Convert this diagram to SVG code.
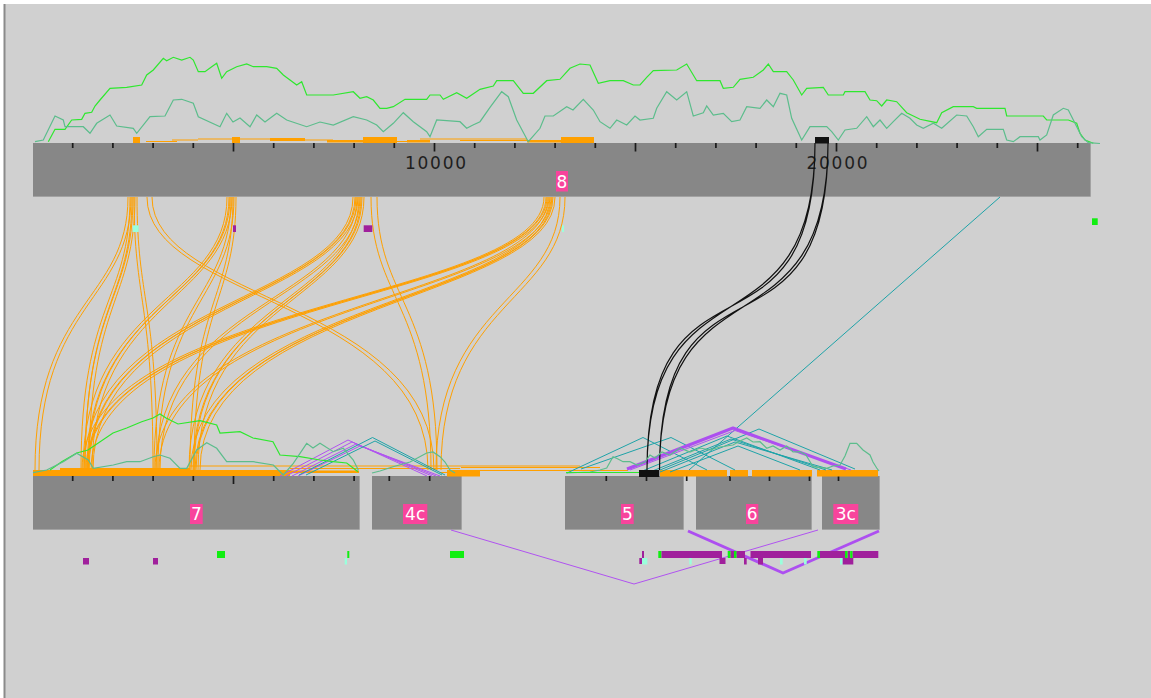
<svg xmlns="http://www.w3.org/2000/svg" width="1151" height="698" viewBox="0 0 1151 698">
<style>
.bar{fill:#878787}
.edge{stroke:#a2a2a2;stroke-width:1;fill:none}
.tick{stroke:#1a1a1a;stroke-width:1.7;fill:none}
.num{font-family:"DejaVu Sans",sans-serif;font-size:17px;fill:#1e1e1e;text-anchor:middle}
.lbox{fill:#f8449c}
.ltxt{font-family:"DejaVu Sans",sans-serif;font-size:17px;fill:#ffffff;text-anchor:middle}
.rib{fill:none;stroke:#ffa000;stroke-width:1}
.foot{fill:#ffa000}
.footl{stroke:#ffa000;stroke-width:1.2;fill:none}
.blk{fill:none;stroke:#111;stroke-width:1.2}
.teal{fill:none;stroke:#1ea3a8;stroke-width:1}
.pur{fill:none;stroke:#b053f0;stroke-width:1}
.purk{fill:none;stroke:#ad4ff0;stroke-width:3;stroke-linejoin:round}
.gr{fill:none;stroke:#2ee82e;stroke-width:1.2}
.sg{fill:none;stroke:#5cbd8c;stroke-width:1.2}
.fp{fill:#a0209c}
.fc{fill:#9affdc}
.fg{fill:#11ee11}
</style>
<rect x="0" y="0" width="1151" height="698" fill="#ffffff"/>
<rect x="4" y="4" width="1147" height="694" fill="#d0d0d0"/>
<rect x="3.5" y="4" width="2" height="694" fill="#8a8a8a"/>

<!-- top feet -->
<g id="top-feet">
<rect class="foot" x="133" y="137" width="7" height="6"/>
<rect class="foot" x="232" y="137" width="8" height="6"/>
<rect class="foot" x="363" y="137" width="34" height="6"/>
<rect class="foot" x="561" y="137" width="33" height="6"/>
<rect class="foot" x="270" y="138" width="35" height="3"/>
<rect class="foot" x="327" y="140" width="36" height="2.5"/>
<rect class="foot" x="407" y="140" width="23" height="2.5"/>
<rect class="foot" x="527" y="140" width="34" height="2.5"/>
<path class="footl" d="M146 141.5H177M172 140H198M198 139H305M305 140H333M397 141.5H420M420 139H527M460 140.5H527"/>
</g>

<!-- nodes -->
<g id="chr8">
<rect class="bar" x="33" y="143" width="1057" height="54"/>
<path class="edge" d="M33 196.5H1090.5V143"/>
<path class="tick" d="M72.7 143v5M112.9 143v5M153.1 143v5M193.3 143v5M273.7 143v5M313.9 143v5M354.1 143v5M394.3 143v5M474.7 143v5M514.9 143v5M555.1 143v5M595.3 143v5M675.7 143v5M715.9 143v5M756.1 143v5M796.3 143v5M876.7 143v5M916.9 143v5M957.1 143v5M997.3 143v5M1077.7 143v5M233.5 143v8.5M434.5 143v8.5M635.5 143v8.5M836.5 143v8.5M1037.5 143v8.5"/>
<text class="num" x="435.5" y="169" textLength="61" lengthAdjust="spacing">10000</text>
<text class="num" x="837" y="169" textLength="61" lengthAdjust="spacing">20000</text>
</g>
<g id="chr7">
<rect class="bar" x="33" y="476" width="326" height="54"/>
<path class="edge" d="M33 529.5H359.5V476"/>
<path class="tick" d="M72.7 476v5M112.9 476v5M153.1 476v5M193.3 476v5M273.7 476v5M313.9 476v5M354.1 476v5M233.5 476v8"/>
</g>
<g id="chr4c">
<rect class="bar" x="372" y="476" width="89" height="54"/>
<path class="edge" d="M372 529.5H461.5V476"/>
<path class="tick" d="M389.3 476v5M429.7 476v5"/>
</g>
<g id="chr5">
<rect class="bar" x="565" y="476" width="118" height="54"/>
<path class="edge" d="M565 529.5H683.5V476"/>
<path class="tick" d="M606.3 476v5M646.5 476v5M686.7 476v5"/>
</g>
<g id="chr6">
<rect class="bar" x="696" y="476" width="115" height="54"/>
<path class="edge" d="M696 529.5H811.5V476"/>
<path class="tick" d="M730 476v5M769.5 476v5M809.5 476v5"/>
</g>
<g id="chr3c">
<rect class="bar" x="822" y="476" width="57" height="54"/>
<path class="edge" d="M822 529.5H879.5V476"/>
<path class="tick" d="M838.5 476v5"/>
</g>

<!-- bottom feet -->
<g id="bottom-feet">
<rect class="foot" x="33" y="470" width="257" height="6"/>
<rect class="foot" x="60" y="468" width="130" height="2"/>
<rect class="foot" x="290" y="470.5" width="69" height="2.5"/>
<rect class="foot" x="447" y="470" width="33" height="6.5"/>
<rect class="foot" x="660" y="470" width="67" height="6.5"/>
<rect class="foot" x="730" y="470" width="18" height="6.5"/>
<rect class="foot" x="752" y="470" width="60" height="6.5"/>
<rect class="foot" x="817" y="470" width="61" height="6.5"/>
<path class="footl" d="M190 466H580M290 468.5H460M461 467.5H600M480 470.5H628M440 472.5H461M461 474.5H472"/>
</g>

<!-- connectors -->
<g id="connectors">
<path class="rib" d="M128 197C128 301 35 301 35 470M131 197C131 301 39 301 39 470"/>
<path class="rib" d="M130 197C130 301 81 301 81 470M133 197C133 301 85 301 85 470"/>
<path class="rib" d="M132 197C132 301 85 301 85 470M135 197C135 301 89 301 89 470"/>
<path class="rib" d="M134 197C134 301 153 301 153 470M137 197C137 301 157 301 157 470"/>
<path class="rib" d="M147 197C147 301 428 301 428 470M152 197C152 301 434 301 434 470"/>
<path class="rib" d="M227 197C227 301 83 301 83 470M230 197C230 301 87 301 87 470"/>
<path class="rib" d="M229 197C229 301 88 301 88 470M232 197C232 301 92 301 92 470"/>
<path class="rib" d="M231 197C231 301 154 301 154 470M234 197C234 301 158 301 158 470"/>
<path class="rib" d="M233 197C233 301 190 301 190 470M236 197C236 301 194 301 194 470"/>
<path class="rib" d="M353 197C353 301 84 301 84 470M356 197C356 301 88 301 88 470"/>
<path class="rib" d="M355 197C355 301 89 301 89 470M358 197C358 301 93 301 93 470"/>
<path class="rib" d="M357 197C357 301 156 301 156 470M360 197C360 301 160 301 160 470"/>
<path class="rib" d="M359 197C359 301 189 301 189 470M362 197C362 301 193 301 193 470"/>
<path class="rib" d="M361 197C361 301 194 301 194 470M364 197C364 301 198 301 198 470"/>
<path class="rib" d="M371 197C371 301 431 301 431 470M377 197C377 301 437 301 437 470"/>
<path class="rib" d="M544 197C544 301 82 301 82 470M547 197C547 301 86 301 86 470"/>
<path class="rib" d="M546 197C546 301 87 301 87 470M549 197C549 301 91 301 91 470"/>
<path class="rib" d="M548 197C548 301 155 301 155 470M551 197C551 301 159 301 159 470"/>
<path class="rib" d="M550 197C550 301 191 301 191 470M553 197C553 301 195 301 195 470"/>
<path class="rib" d="M552 197C552 301 196 301 196 470M555 197C555 301 200 301 200 470"/>
<path class="rib" d="M560 197C560 301 436 301 436 470M565 197C565 301 441 301 441 470"/>

<polyline class="pur" points="280,476 348,440 427,476"/>
<polyline class="pur" points="286,476 352,442 432,476"/>
<polyline class="pur" points="292,476 356,444 436,476"/>
<polyline class="pur" points="298,476 360,446 440,476"/>
<polyline class="teal" points="299,475 372.5,437.5 445,475"/>
<polyline class="teal" points="306,475 375,441 442,475"/>

<polyline class="teal" points="567,473 643,437.5 707,470"/>
<polyline class="teal" points="581,469 671,437.5 735,470"/>
<polyline class="teal" points="660,470 759,429 855,469"/>
<polyline class="teal" points="640,472 727,436 820,470"/>
<polyline class="teal" points="650,472 731,439 826,470"/>
<polyline class="teal" points="660,472 735,442 832,470"/>
<polyline class="teal" points="670,472 738,446 800,470"/>
<line class="teal" x1="1000" y1="197" x2="689" y2="470"/>
<polyline class="purk" points="627,469 733,428 846,469" stroke-width="2.2"/>
<polyline class="pur" points="630,470 735,430.5 851,470" stroke-width="1.6"/>

<polyline class="pur" points="451,530 634,584 818,530"/>
<polyline class="purk" points="688,531 783,573 879,531"/>

<path class="blk" d="M815 143C815 378 647 235 647 470M815 143C815 362 647 251 647 470"/>
<path class="blk" d="M828 143C828 378 659.5 235 659.5 470M828 143C828 362 659.5 251 659.5 470"/>
</g>

<!-- plots -->
<g id="plots">
<polyline class="gr" points="48.3,141.7 55,129.3 65,129.3 71.7,120 81.7,119.3 85,113.3 91.7,112.3 95,106 100,100 110,88.3 126.7,87.3 141.7,85 146.7,75 153.3,70 163.3,58.3 166.7,60.7 173.3,57.3 181.7,60 190,57.3 193.3,60 198.3,71.7 205,71.7 211.7,66.7 216.7,63.3 221.7,78.3 226.7,71.7 236.7,66.7 246.7,64 253.3,66.7 266.7,66.7 276.7,68.3 283.3,75 290,80 296.7,85 301.7,81.7 306.7,95 333.3,95 353.3,91.7 360,98.3 366.7,96.7 373.3,100 380,108.3 386.7,108.3 393.3,106.7 405,99.3 426.7,99.3 430,95 440,95 443.3,99.3 456.7,92.7 466.7,98.3 480,89.3 493.3,86 496.7,80.7 513.3,80.7 523.3,93.3 533.3,93.3 546.7,80.7 560,79.3 570,68.3 580,64 590,65 598.3,83.3 610,80.7 623.3,80.7 633.3,85 640,85 646.7,77.3 653.3,70.7 676.7,70 686.7,64 696.7,80.7 720,80.7 723.3,88.3 733.3,87.3 740,79.3 753.3,77.3 763.3,70 768.3,64 773.3,71.7 786.7,71.7 793.3,80 801.7,95 806.7,88.3 823.3,87.3 828.3,95 843.3,95 845,91.7 865,91.7 870,100 876.7,100.7 881.7,106 886.7,100 896.7,101.7 906.7,112.7 920,119.3 936.7,122.7 941.7,112.7 953.3,106.7 973.3,106.7 976.7,108.3 1005,108.3 1006.7,116 1043.3,116 1046.7,120 1068.3,120 1076.7,123.3 1080,133.3 1085,140 1093.3,143.3"/>
<polyline class="sg" points="35,141.7 43.3,140 55,116 63.3,120 65,126.7 83.3,126.7 90,133.3 96.7,123.3 110,115 116.7,126 133.3,128.3 136.7,133.3 150,116.7 165,116 173.3,100 181.7,99.3 193.3,103.3 198.3,116.7 220,126.7 226.7,113.3 233,122 240,118 250,126.7 256.7,115 265,122 276.7,113.3 286.7,120 306.7,126.7 320,122 333.3,125 353.3,116.7 366.7,120 376.7,125 383.3,131.7 393.3,123.3 403.3,112.7 413.3,121.7 426.7,131.7 430,136.7 436.7,120 460,121.7 466.7,128.3 473,125 480,121.7 490,107.3 501.7,91.7 508.3,96.7 516.7,120 528.3,141.7 540,128.3 545,116 553.3,116 566.7,106.7 573,110 583.3,99.3 593.3,110 600,121.7 610,128.3 616.7,120 626.7,125 635,116 640,120 653.3,118.3 656.7,108.3 666.7,91.7 676.7,100 686.7,91.7 693.3,116 703.3,112.7 706.7,106 713.3,115 723.3,113.3 731.7,121.7 740,120 746.7,106.7 760,108.3 766.7,100 773.3,106.7 780,93.3 786.7,95 791.7,118.3 801.7,140 810,126.7 826.7,126.7 831.7,131.7 838.3,140 845,130 856.7,128.3 866.7,116.7 873.3,126.7 880,120 886.7,128.3 893.3,121.7 901.7,113.3 910,118.3 916.7,125 923.3,128.3 933.3,123.3 941.7,128.3 956.7,115 966.7,116 973.3,126.7 978.3,136.7 986.7,129.3 1003.3,129.3 1006.7,140 1013.3,141.7 1020,136.7 1038.3,136.7 1040,140 1046.7,135 1053.3,115 1063.3,108.3 1068.3,110 1075,123.3 1081.7,136.7 1088.3,142.7 1100,143.5"/>
<polyline class="gr" points="50,470 61.7,461.7 76.7,453 88,450 113,433 126.7,428 141.7,421.7 153,418 160,414 166,418 178,424 200,420.7 216.7,425 220,433 240,431.7 253,438 273,441.7 280,455 300,456.7 320,460 333,461.7 346.7,463 358,471.7"/>
<polyline class="sg" points="33,472.7 46.7,470 63.3,461.7 76.7,453.3 88.3,460 93.3,468.3 113.3,465 126.7,461.7 140,461.7 153.3,456.7 160,455 170,458.3 180,468.3 186.7,468.3 196.7,450 206.7,442.7 216.7,448.3 226.7,461.7 253.3,461.7 273.3,465 283.3,475 293.3,463.3 306.7,443.3 313,448 320,443.3 333.3,451.7 343.3,448.3 353.3,460 358.3,470"/>
<polyline class="sg" points="372,473 380,471 393,466.7 410,462 426.7,453 433,452 440,456.7 445,462 450,470 455,473"/>
<polyline class="sg" points="566,473 590,472 600,470 606.7,468 613,456.7 618,459 623,461.7 630,461.7 637,465 645,462 650,455 655,458 662,452 670,455 680,448 690,452 700,448 710,450 720,447 733,445 740,441 746.7,438 753,442 760,441.7 766.7,448.3 773,446 780,450 786.7,446 793,452 800,451.7 806,455 813,466.7 826.7,468.3 833,466 840,465 845,456 850,443.3 856.7,443.3 863,450 870,455 873,462 876.7,468 879,471"/>
<line class="gr" x1="566" y1="472.5" x2="640" y2="472.5"/>
</g>

<!-- black anchors -->
<rect x="815" y="137" width="14" height="6.5" fill="#111"/>
<rect x="639" y="470" width="20.3" height="7" fill="#111"/>

<!-- features -->
<g id="features">
<rect class="fc" x="132.7" y="225.3" width="6" height="6.7"/>
<rect class="fp" x="233" y="225.3" width="3" height="6.7"/>
<rect class="fp" x="363.7" y="225.3" width="8.6" height="6.7"/>
<rect class="fc" x="562" y="225.3" width="2" height="6.7"/>
<rect class="fg" x="1092" y="218.3" width="5.7" height="6.7"/>

<rect class="fp" x="83" y="558" width="6" height="6.5"/>
<rect class="fp" x="153" y="558" width="5" height="6.5"/>
<rect class="fg" x="217" y="551" width="8" height="7"/>
<rect class="fg" x="347.3" y="551" width="2" height="7"/>
<rect class="fc" x="344.7" y="558" width="2.3" height="6.5"/>
<rect class="fg" x="450" y="551" width="14" height="7"/>

<rect class="fp" x="642" y="551" width="2" height="7"/>
<rect class="fp" x="639.3" y="558" width="2.7" height="6"/>
<rect class="fc" x="642" y="558" width="5.3" height="6.5"/>
<rect class="fg" x="658.3" y="551" width="3.2" height="7"/>
<rect class="fp" x="661.5" y="551" width="60.5" height="7"/>
<rect class="fc" x="689.3" y="558" width="2.4" height="6.5"/>
<rect class="fp" x="719.5" y="558" width="6" height="6"/>
<rect class="fg" x="727.7" y="551" width="3" height="7"/>
<rect class="fp" x="730.7" y="551" width="3.3" height="7"/>
<rect class="fg" x="734" y="551" width="2.7" height="7"/>
<rect class="fp" x="736.7" y="551" width="8.3" height="7"/>
<rect class="fp" x="744" y="558" width="2.7" height="6.5"/>
<rect class="fp" x="750.5" y="551" width="60.5" height="7"/>
<rect class="fp" x="758" y="558" width="5" height="6.5"/>
<rect class="fc" x="780" y="558" width="2.7" height="6.5"/>
<rect class="fc" x="804" y="558" width="2.7" height="6.5"/>
<rect class="fg" x="817.3" y="551" width="2.7" height="7"/>
<rect class="fp" x="820" y="551" width="25" height="7"/>
<rect class="fg" x="845" y="551" width="2.7" height="7"/>
<rect class="fp" x="847.7" y="551" width="2.5" height="7"/>
<rect class="fg" x="850.2" y="551" width="2.5" height="7"/>
<rect class="fp" x="852.7" y="551" width="25.6" height="7"/>
<rect class="fc" x="840" y="558" width="2.7" height="6.5"/>
<rect class="fp" x="842.7" y="558" width="10.6" height="6.5"/>
</g>

<!-- labels -->
<g id="labels">
<rect class="lbox" x="556" y="171" width="12" height="20.5"/>
<text class="ltxt" x="562" y="187.5">8</text>
<rect class="lbox" x="190" y="504" width="12.7" height="20"/>
<text class="ltxt" x="196.3" y="520.3">7</text>
<rect class="lbox" x="403" y="504" width="24.3" height="20"/>
<text class="ltxt" x="415.2" y="520.3">4c</text>
<rect class="lbox" x="621" y="504" width="12.7" height="20"/>
<text class="ltxt" x="627.3" y="520.3">5</text>
<rect class="lbox" x="746" y="504" width="12.3" height="20"/>
<text class="ltxt" x="752.2" y="520.3">6</text>
<rect class="lbox" x="833.3" y="504" width="25" height="20"/>
<text class="ltxt" x="845.8" y="520.3">3c</text>
</g>
</svg>
